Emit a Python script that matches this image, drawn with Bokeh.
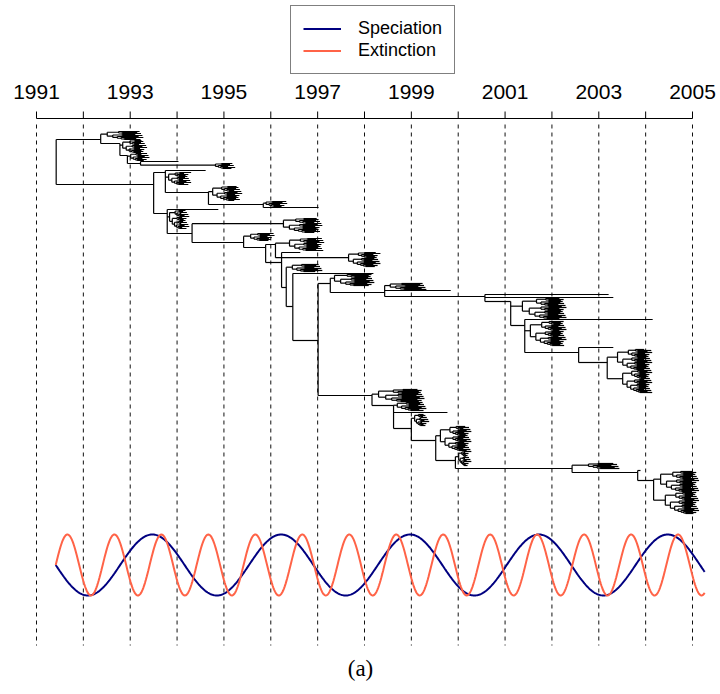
from bokeh.plotting import figure
from bokeh.models import Range1d, Legend, LegendItem
from bokeh.core.properties import value
from bokeh.embed import file_html
from bokeh.resources import INLINE
import math

# ---------------- data ----------------
axis_years = list(range(1991, 2006))
label_years = [1991, 1993, 1995, 1997, 1999, 2001, 2003, 2005]
label_text = [str(y) for y in label_years]

# rate curves: start/end year and periods
curve_start = 1991.41
curve_end = 2005.26
speciation_period = 2.75
extinction_period = 1.0024

# backbone (internal) nodes of the tree: year and tip-rank position
node_name = ["R", "A", "A2", "A3", "A4", "B", "Btop", "B2n", "B3", "Bbot", "C", "D", "E", "F", "I",
             "J", "K", "L", "M", "O", "P", "T", "U", "V", "W", "N", "Y", "Z", "AA", "AC", "AB", "AD", "AE"]
node_parent = [None, "R", "A", "A2", "A3", "R", "B", "Btop", "B2n", "B", "Bbot", "C", "D", "E", "E",
               "I", "J", "K", "L", "M", "O", "P", "T", "U", "V", "L", "N", "Y", "Z", "AA", "AC", "AB", "AD"]
node_year = [1991.42, 1992.37, 1992.78, 1992.94, 1993.22, 1993.50, 1993.75, 1994.67, 1995.84, 1993.79,
             1994.32, 1995.42, 1995.89, 1996.10, 1996.23, 1996.33, 1996.47, 1997.01, 1997.27, 1998.43,
             2000.57, 2001.12, 2001.42, 2002.57, 2003.18, 1998.16, 1998.62, 1999.00, 1999.52, 1999.94,
             2002.43, 2003.83, 2004.17]
node_rank = [30, 8, 12, 24, 32, 53, 41, 61, 73, 82, 102, 111, 116, 113, 131, 156, 175, 209, 152, 161,
             165, 170, 194, 221, 231, 264, 274, 297, 309, 329, 337, 341, 349]

# clusters of tips (a single rank = one lone lineage)
bush_parent = ["A", "A2", "A3", "A4", "A4", "Btop", "Btop", "B2n", "B3", "B3", "Bbot", "Bbot", "C",
               "D", "F", "F", "I", "J", "K", "M", "O", "O", "P", "P", "T", "U", "U", "V", "W", "W",
               "N", "Y", "Y", "Z", "AA", "AC", "AB", "AD", "AE", "AE"]
bush_root_year = [1992.51, 1992.84, 1993.01, None, 1994.82, None, 1993.82, 1994.76, 1995.90, None,
                  None, 1993.84, 1996.27, 1995.57, 1996.40, 1997.66, None, 1996.46, None, 1997.36,
                  1998.55, None, None, None, 2001.37, None, 2001.54, None, 2003.40, 2003.51,
                  1998.30, 1998.70, None, 1999.07, 1999.62, 2000.01, 2002.78, None, 2004.32, 2004.42]
bush_rank_top = [0, 9, 22, 30, 32, 39, 41, 55, 70, 76, 78, 79, 87, 102, 107, 121, 121, 133, 142, 143,
                 152, 159, 163, 166, 167, 188, 190, 216, 218, 239, 258, 271, 281, 283, 295, 320, 332,
                 339, 340, 361]
bush_rank_bottom = [8, 21, 29, 30, 37, 39, 53, 69, 75, 76, 78, 97, 101, 109, 119, 135, 121, 140, 142,
                    154, 158, 159, 163, 166, 187, 188, 214, 216, 238, 261, 270, 279, 281, 294, 319, 334,
                    337, 339, 360, 382]
bush_tip_year = [1993.20, 1993.28, 1993.33, 1994.03, 1995.18, 1994.61, 1994.22, 1995.31, 1996.27,
                 1997.02, 1994.88, 1994.18, 1997.02, 1996.00, 1997.06, 1998.26, 1996.63, 1997.02,
                 1998.19, 1998.13, 1999.24, 1999.84, 2003.21, 2003.31, 2002.23, 2004.15, 2002.23,
                 2003.31, 2004.06, 2004.06, 1999.20, 1999.24, 1999.77, 1999.30, 2000.20, 2000.20,
                 2003.36, 2003.89, 2005.06, 2005.06]

legend_labels = ["Speciation", "Extinction"]
caption = "(a)"

# ---------------- layout / style ----------------
W, H = 720, 694
X0 = 1991 - 36 * 14 / 656
X1 = 1991 + 684 * 14 / 656
TREE_TOP = 131
ROW = 1.0
CURVE_MID = 564.5
CURVE_AMP = 30.5
AXIS_Y = 118
TICK_LEN = 7
LABEL_Y = 91
GRID_TOP = 124
GRID_BOTTOM = 645
CAPTION_Y = 668
TIP_JITTER = [0.0, -0.05, 0.03, -0.09, 0.06, -0.02, 0.08, -0.07, 0.02, -0.04]

p = figure(width=W, height=H, x_range=Range1d(X0, X1), y_range=Range1d(H, 0),
           x_axis_type=None, y_axis_type=None, toolbar_location=None,
           output_backend="svg", min_border=0)
p.outline_line_color = None
p.background_fill_color = "white"
p.border_fill_color = "white"

# dashed year lines
p.segment(x0=axis_years, y0=[GRID_TOP] * len(axis_years), x1=axis_years, y1=[GRID_BOTTOM] * len(axis_years),
          line_color="#111111", line_width=1, line_dash="4 4")

# axis on top
p.segment(x0=[axis_years[0]], y0=[AXIS_Y], x1=[axis_years[-1]], y1=[AXIS_Y], line_color="black", line_width=1)
p.segment(x0=axis_years, y0=[AXIS_Y] * len(axis_years), x1=axis_years, y1=[AXIS_Y - TICK_LEN] * len(axis_years),
          line_color="black", line_width=1)
p.text(x=label_years, y=[LABEL_Y] * len(label_years), text=label_text, text_align="center",
       text_baseline="middle", text_font=value("Liberation Sans"), text_font_size="21px", text_color="black")

# ---------------- tree ----------------
segs = {"x0": [], "y0": [], "x1": [], "y1": []}


def seg(a, b, c, d):
    segs["x0"].append(a); segs["y0"].append(b); segs["x1"].append(c); segs["y1"].append(d)


counter = [0]


def tip_end(t_node, t_tip):
    off = TIP_JITTER[counter[0] % len(TIP_JITTER)]
    counter[0] += 1
    return max(t_node + 0.03, t_tip + off)


def grow(ys, t_node, t_tip):
    k = max(1, (len(ys) * 2) // 5)
    parts = [ys[:k], ys[k:]]
    fracs = [0.35, 0.17]
    cy = []
    for part, f in zip(parts, fracs):
        if len(part) == 1:
            seg(t_node, part[0], tip_end(t_node, t_tip), part[0])
            cy.append(part[0])
        else:
            t_child = t_node + (t_tip - t_node) * f
            y_child = grow(part, t_child, t_tip)
            seg(t_node, y_child, t_child, y_child)
            cy.append(y_child)
    seg(t_node, cy[0], t_node, cy[1])
    return (cy[0] + cy[1]) / 2


year_of = dict(zip(node_name, node_year))
ypos = {n: TREE_TOP + r * ROW for n, r in zip(node_name, node_rank)}
child_y = {n: [] for n in node_name}

for par, t0, r0, r1, t1 in zip(bush_parent, bush_root_year, bush_rank_top, bush_rank_bottom, bush_tip_year):
    if r0 == r1 or t0 is None:
        y = TREE_TOP + r0 * ROW
        seg(year_of[par], y, t1, y)
        child_y[par].append(y)
    else:
        ys = [TREE_TOP + r * ROW for r in range(r0, r1 + 1)]
        yb = grow(ys, t0, t1)
        seg(year_of[par], yb, t0, yb)
        child_y[par].append(yb)

for n, par in zip(node_name, node_parent):
    if par is not None:
        seg(year_of[par], ypos[n], year_of[n], ypos[n])
        child_y[par].append(ypos[n])

for n in node_name:
    ys = child_y[n] + ([ypos[n]] if n != "R" else [])
    seg(year_of[n], min(ys), year_of[n], max(ys))

p.segment(x0="x0", y0="y0", x1="x1", y1="y1", source=segs, line_color="black", line_width=1.2)

# ---------------- rate curves ----------------
n_pts = 800
ts = [curve_start + (curve_end - curve_start) * i / (n_pts - 1) for i in range(n_pts)]
spec_y = [CURVE_MID + CURVE_AMP * math.sin(2 * math.pi * (t - curve_start) / speciation_period) for t in ts]
ext_y = [CURVE_MID - CURVE_AMP * math.sin(2 * math.pi * (t - curve_start) / extinction_period) for t in ts]
r_spec = p.line(ts, spec_y, line_color="#000080", line_width=2)
r_ext = p.line(ts, ext_y, line_color="#FF6347", line_width=2)

legend = Legend(items=[LegendItem(label=legend_labels[0], renderers=[r_spec]),
                       LegendItem(label=legend_labels[1], renderers=[r_ext])],
                location=(290, 620), margin=0, padding=12, spacing=1,
                glyph_width=38, glyph_height=21, label_height=21, label_standoff=17,
                label_text_font="Liberation Sans", label_text_font_size="18px",
                label_text_color="black",
                border_line_color="black", border_line_width=1, background_fill_color="white",
                background_fill_alpha=1.0)
p.add_layout(legend)

# caption
p.text(x=[(X0 + X1) / 2], y=[CAPTION_Y], text=[caption], text_align="center", text_baseline="middle",
       text_font=value("Liberation Serif"), text_font_size="23px", text_color="black")

open("out.html", "w").write(file_html(p, INLINE))
